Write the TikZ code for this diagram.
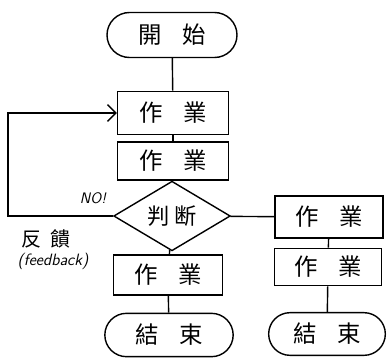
\documentclass[tikz,border=0pt]{standalone}
\usepackage{fontspec}
\newfontfamily\cjk{Noto Sans CJK TC}
\usetikzlibrary{shapes,shapes.misc,shapes.geometric,arrows.meta}
\usetikzlibrary{positioning}
\tikzstyle{block} = [rectangle, draw, line width=1.2pt, inner sep=0pt,
    minimum width=3.33cm, minimum height=1.25cm, font=\cjk\fontsize{20}{20}\selectfont]
\tikzstyle{terminal} = [rounded rectangle, draw, line width=1.2pt, inner sep=0pt,
    minimum width=3.9cm, minimum height=1.35cm, font=\cjk\fontsize{20}{20}\selectfont]
\tikzstyle{decision} = [diamond, draw, line width=1.2pt, inner sep=0pt,
    minimum width=3.5cm, minimum height=1.6cm, font=\cjk\fontsize{19}{19}\selectfont]
\tikzstyle{line} = [draw, line width=1.2pt]
\newcommand{\gap}{\hspace{0.9em}}

\begin{document}
\begin{tikzpicture}[x=0.03cm,y=-0.03cm]
    \useasboundingbox (0,0) rectangle (387,360);
    % Place nodes
    \node [terminal] (start) at (172,35) {開\gap 始};
    \node [block, minimum height=1.3cm] (work1) at (173,113) {作\gap 業};
    \node [block, minimum height=1.15cm] (work2) at (173,161) {作\gap 業};
    \node [decision] (decide) at (172,216) {判\hspace{0.2em}断};
    \node [block, minimum width=3.27cm, minimum height=1.2cm] (work3) at (168,275) {作\gap 業};
    \node [terminal, minimum width=3.85cm, minimum height=1.3cm] (stop) at (169,335) {結\gap 束};
    \node [block, minimum width=3.25cm, minimum height=1.25cm] (work4) at (329,217) {作\gap 業};
    \node [block, minimum width=3.2cm, minimum height=1.12cm] (work5) at (328,267) {作\gap 業};
    \node [terminal, minimum width=3.5cm, minimum height=1.28cm] (stop2) at (327,334) {結\gap 束};
    \coordinate (fbx) at (8,0);
    \node [font=\sffamily\itshape\fontsize{13}{13}\selectfont] (no) at (93,198) {NO!};
    \node [font=\cjk\fontsize{17}{17}\selectfont] (fb) at (46,239) {反\hspace{0.5em}饋};
    \node [font=\sffamily\itshape\fontsize{14}{14}\selectfont] (fben) at (53,261) {(feedback)};
    % Draw edges
    \path [line] (start) -- (work1);
    \path [line] (work1) -- (work2);
    \path [line] (work2) -- (decide);
    \path [line] (decide) -- (work3);
    \path [line] (work3) -- (stop);
    \path [line] (decide) -- (work4);
    \path [line] (work4) -- (work5);
    \path [line] (work5) -- (stop2);
    \path [line, -{Straight Barb[length=2.5mm,width=5mm]}] (decide.west) -- (fbx |- decide.west) -- (fbx |- work1.west) -- (work1.west);
\end{tikzpicture}
\end{document}
